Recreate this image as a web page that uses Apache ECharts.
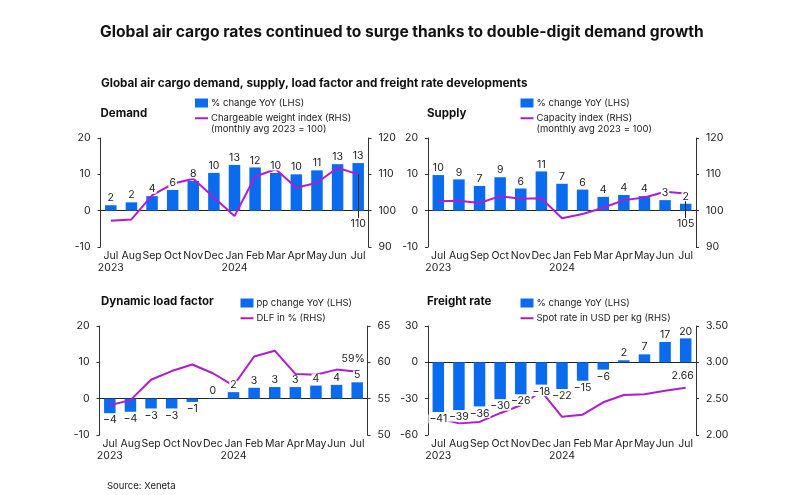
<html>
<head>
    <title></title>
    <script src="https://cdn.jsdelivr.net/npm/echarts@6/dist/echarts.min.js" type="text/javascript"></script>
    <style>
        html,body{margin:0;padding:0;background:#fff;}
    </style>
</head>
<body>
    <div id="chartDiv" style="width:800px;height:495px;"></div>
</body>
<script type="text/javascript" charset="utf-8">
        var months = ['Jul\n2023','Aug','Sep','Oct','Nov','Dec','Jan\n2024','Feb','Mar','Apr','May','Jun','Jul'];

        // bars, labels are rounded from these
        var demandChange = [1.5,2.3,4.0,5.7,8.2,10.4,12.6,11.9,10.4,10.0,11.1,12.8,13.1];
        var demandIndex = [97.2,97.6,104.2,107.4,108.8,103.6,98.5,109.4,111.4,106.3,107.7,111.8,110];
        var supplyChange = [9.8,8.6,6.8,9.2,6.1,10.8,7.4,5.8,3.8,4.3,4.0,2.9,1.9];
        var supplyIndex = [102.6,102.7,102.1,104.0,103.3,103.4,97.9,99.1,100.8,102.9,103.6,105.2,104.7];
        var dlfChange = [-4.0,-3.6,-2.7,-2.7,-0.9,0.1,1.8,3.0,3.2,3.2,3.6,3.8,4.5];
        var dlfValue = [54.1,54.8,57.6,58.8,59.7,58.5,56.8,60.8,61.6,58.4,58.3,59.0,58.7];
        var rateChange = [-41,-39.4,-36.4,-30.4,-26.4,-18.4,-22,-15.2,-6,1.7,6.6,16.8,19.8];
        var rateValue = [2.23,2.16,2.18,2.30,2.41,2.60,2.25,2.28,2.45,2.55,2.56,2.61,2.65];

        var FONT = 'Inter';
        var BLUE = '#0b6bef';
        var PURPLE = '#b01ccf';
        var TEXT = '#222222';
        // thin bar in the middle of the icon box, the specks keep the box height
        var LINE_ICON = 'path://M0,0h0.01v0.01h-0.01z M0,3.6h13v2h-13z M0,8.99h0.01v0.01h-0.01z';

        var option = {
            backgroundColor:'#fff',
            animation:false,
            textStyle:{fontFamily:FONT,color:TEXT},
            title:[
                {text:'Global air cargo rates continued to surge thanks to double-digit demand growth',left:100,top:18,padding:0,textStyle:{fontFamily:FONT,fontSize:15.6,fontWeight:700,color:'#111'}},
                {text:'Global air cargo demand, supply, load factor and freight rate developments',left:101,top:72,padding:0,textStyle:{fontFamily:FONT,fontSize:11.7,fontWeight:700,color:'#111'}},
                {text:'Source: Xeneta',left:107,top:478,padding:0,textStyle:{fontFamily:FONT,fontSize:9.5,fontWeight:400,color:TEXT}}
            ],
            legend:[],grid:[],xAxis:[],yAxis:[],series:[]
        };

        function addPanel(p){
            var g = option.grid.length;
            option.title.push({text:p.title,left:p.titleLeft,top:p.titleTop,padding:0,textStyle:{fontFamily:FONT,fontSize:11.5,fontWeight:700,color:'#111'}});
            if(p.noteText){
                option.title.push({text:p.noteText,left:p.legendLeft+16,top:121,padding:0,textStyle:{fontFamily:FONT,fontSize:9.5,fontWeight:400,color:TEXT}});
            }
            option.grid.push({left:p.left,top:p.top,width:268,height:109});
            option.legend.push({
                left:p.legendLeft,top:p.legendTop,orient:'vertical',itemWidth:13,itemHeight:9,itemGap:-2,
                padding:0,textStyle:{fontFamily:FONT,fontSize:9.5,color:TEXT,padding:[0,0,0,-2],lineHeight:11},
                data:[{name:p.barName,icon:'rect'},{name:p.lineName,icon:LINE_ICON}]
            });
            // first x axis carries the month labels, second one only draws the line at zero
            option.xAxis.push({type:'category',gridIndex:g,data:months,position:'bottom',
                axisLine:{show:false,onZero:false},axisTick:{show:false},
                axisLabel:{interval:0,fontFamily:FONT,fontSize:10.5,color:TEXT,margin:3,lineHeight:12}});
            option.xAxis.push({type:'category',gridIndex:g,data:months,
                axisLine:{show:true,onZero:true,onZeroAxisIndex:g*2,lineStyle:{color:'#222',width:1}},axisTick:{show:false},axisLabel:{show:false}});
            var axisStyle = {show:true,lineStyle:{color:'#333',width:1}};
            option.yAxis.push({type:'value',gridIndex:g,position:'left',min:p.lMin,max:p.lMax,interval:p.lStep,
                axisLine:axisStyle,axisTick:{show:true,length:3,lineStyle:{color:'#333'}},splitLine:{show:false},
                axisLabel:{fontFamily:FONT,fontSize:10.5,color:TEXT,margin:10}});
            option.yAxis.push({type:'value',gridIndex:g,position:'right',min:p.rMin,max:p.rMax,interval:p.rStep,
                axisLine:axisStyle,axisTick:{show:true,length:3,lineStyle:{color:'#333'}},splitLine:{show:false},
                axisLabel:{fontFamily:FONT,fontSize:10.5,color:TEXT,margin:10,formatter:p.rFormat}});
            option.series.push({
                name:p.barName,type:'bar',xAxisIndex:g*2,yAxisIndex:g*2,data:p.bars,barWidth:11.5,barGap:'-100%',z:2,
                itemStyle:{color:BLUE}
            });
            var lineData = p.line.map(function(v,i){
                if(i==p.line.length-1 && p.endLabel){
                    return {value:v,label:{show:true,position:'top',distance:p.endDistance,offset:[p.endShift,0],fontFamily:FONT,fontSize:10.5,color:TEXT,formatter:p.endLabel}};
                }
                return v;
            });
            var line = {
                name:p.lineName,type:'line',xAxisIndex:g*2,yAxisIndex:g*2+1,data:lineData,symbol:'circle',symbolSize:0,z:3,
                lineStyle:{color:PURPLE,width:2},itemStyle:{color:PURPLE}
            };
            if(p.leaderTo){
                // thin leader from the last point down to its value label
                line.markLine = {silent:true,symbol:'none',animation:false,z:3,
                    lineStyle:{color:'#222',width:1,type:'solid'},
                    label:{show:true,position:'end',distance:-4,fontFamily:FONT,fontSize:10.5,color:TEXT,formatter:p.leaderLabel},
                    data:[[{coord:[12,p.line[12]]},{coord:[12,p.leaderTo]}]]};
            }
            option.series.push(line);
            // labels sit on an empty copy of the bars so their white box can break the line
            option.series.push({
                name:p.barName,type:'bar',xAxisIndex:g*2,yAxisIndex:g*2,data:p.bars,barWidth:11.5,barGap:'-100%',z:4,
                itemStyle:{color:'rgba(0,0,0,0)'},
                label:{show:true,position:'outside',distance:2.5,fontFamily:FONT,fontSize:10.5,color:TEXT,
                    backgroundColor:'#fff',padding:[0,1,0,1],lineHeight:9,
                    formatter:function(o){
                        var v = Math.round(o.value);
                        return v<0 ? '\u2212'+(-v) : String(v);
                    }}
            });
        }

        addPanel({title:'Demand',left:100.5,top:138,titleLeft:100.5,titleTop:103,legendLeft:195,legendTop:94.5,
            barName:'% change YoY (LHS)',lineName:'Chargeable weight index (RHS)',noteText:'(monthly avg 2023 = 100)',
            bars:demandChange,line:demandIndex,lMin:-10,lMax:20,lStep:10,rMin:90,rMax:120,rStep:10,
            leaderTo:98,leaderLabel:'110'});
        addPanel({title:'Supply',left:428,top:138,titleLeft:427,titleTop:103,legendLeft:520.5,legendTop:94.5,
            barName:'% change YoY (LHS) ',lineName:'Capacity index (RHS)',noteText:'(monthly avg 2023 = 100)',
            bars:supplyChange,line:supplyIndex,lMin:-10,lMax:20,lStep:10,rMin:90,rMax:120,rStep:10,
            leaderTo:98,leaderLabel:'105'});
        addPanel({title:'Dynamic load factor',left:99.5,top:326,titleLeft:101,titleTop:291,legendLeft:240.5,legendTop:294.5,
            barName:'pp change YoY (LHS)',lineName:'DLF in % (RHS)',
            bars:dlfChange,line:dlfValue,lMin:-10,lMax:20,lStep:10,rMin:50,rMax:65,rStep:5,
            endLabel:'59%',endDistance:4,endShift:-4});
        addPanel({title:'Freight rate',left:428,top:326,titleLeft:427,titleTop:291,legendLeft:520.5,legendTop:294.5,
            barName:'% change YoY (LHS)  ',lineName:'Spot rate in USD per kg (RHS)',
            bars:rateChange,line:rateValue,lMin:-60,lMax:30,lStep:30,rMin:2,rMax:3.5,rStep:0.5,
            rFormat:function(v){return v.toFixed(2);},
            endLabel:'2.66',endDistance:3,endShift:-3});

        var chart = echarts.init(document.getElementById('chartDiv'));
        chart.setOption(option);
</script>
</html>
